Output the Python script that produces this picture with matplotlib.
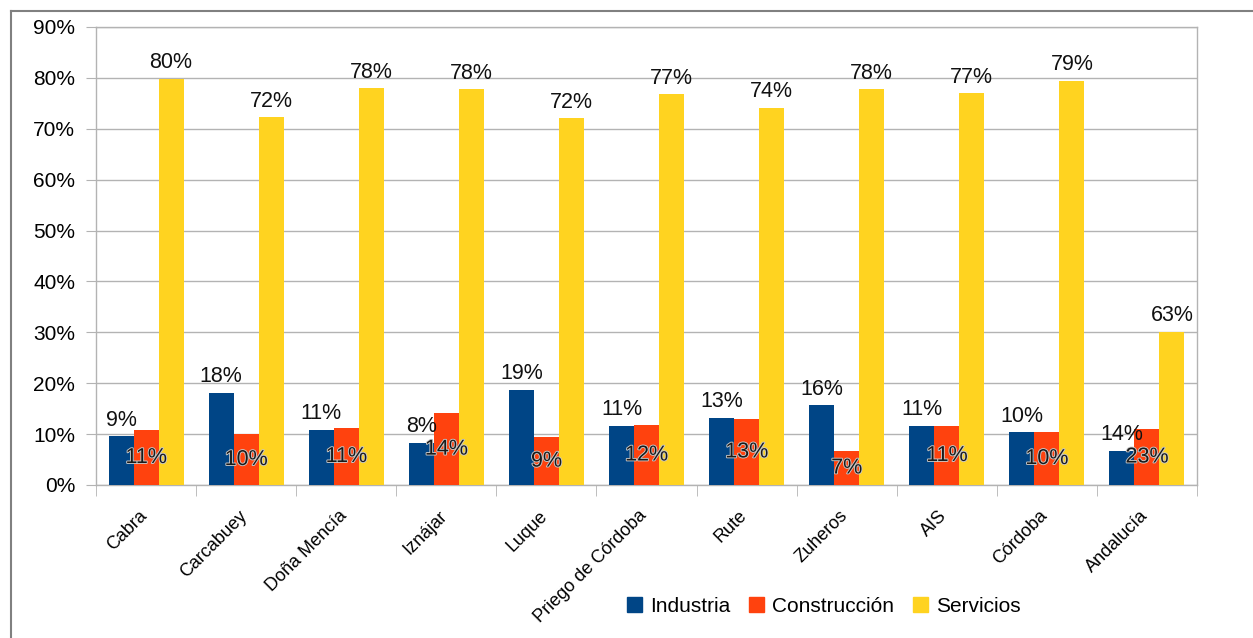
import numpy as np
import matplotlib.pyplot as plt
import matplotlib.patheffects as pe
import matplotlib.transforms as mtransforms
from matplotlib.lines import Line2D
from matplotlib.patches import Patch

plt.rcParams['font.family'] = ['Liberation Sans', 'DejaVu Sans']

categories = ["Cabra", "Carcabuey", "Doña Mencía", "Iznájar", "Luque",
              "Priego de Córdoba", "Rute", "Zuheros", "AIS", "Córdoba", "Andalucía"]
# bar heights (%) as drawn
industria = [9.6, 18.1, 10.8, 8.3, 18.7, 11.6, 13.2, 15.7, 11.6, 10.4, 6.7]
construccion = [10.8, 10.0, 11.2, 14.1, 9.4, 11.8, 13.0, 6.7, 11.6, 10.4, 11.0]
servicios = [79.8, 72.3, 78.0, 77.8, 72.1, 76.8, 74.1, 77.8, 77.0, 79.4, 30.1]
# data labels as printed
industria_lbl = [9, 18, 11, 8, 19, 11, 13, 16, 11, 10, 14]
construccion_lbl = [11, 10, 11, 14, 9, 12, 13, 7, 11, 10, 23]
servicios_lbl = [80, 72, 78, 78, 72, 77, 74, 78, 77, 79, 63]

c_ind, c_con, c_ser = '#004586', '#ff420e', '#ffd320'
grid_c = '#b3b3b3'

W, H = 1253, 638
fig = plt.figure(figsize=(W / 100, H / 100), dpi=100)
ax = fig.add_axes([96 / W, (H - 485) / H, 1101 / W, 458 / H])

x = np.arange(len(categories))
w = 0.25
ax.bar(x - w, industria, w, color=c_ind, zorder=3)
ax.bar(x, construccion, w, color=c_con, zorder=3)
ax.bar(x + w, servicios, w, color=c_ser, zorder=3)

fs = 15.5
for i in range(len(categories)):
    ax.annotate(f"{industria_lbl[i]}%", (x[i] - w, industria[i]), xytext=(0, 4),
                textcoords='offset points', ha='center', va='bottom', fontsize=fs, color='#111111')
    ax.annotate(f"{servicios_lbl[i]}%", (x[i] + w, servicios[i]), xytext=(0, 4),
                textcoords='offset points', ha='center', va='bottom', fontsize=fs, color='#111111')
    t = ax.text(x[i], construccion[i] / 2, f"{construccion_lbl[i]}%", ha='center', va='center',
                fontsize=fs, color='#1a1a1a', zorder=5)
    t.set_path_effects([pe.Stroke(linewidth=1.3, foreground='#c8c8c8'), pe.Normal()])

ax.set_xlim(-0.5, len(categories) - 0.5)
ax.set_ylim(0, 90)
ax.set_yticks(np.arange(0, 91, 10))
ax.set_yticklabels([f"{v}%" for v in range(0, 91, 10)], fontsize=15)
ax.yaxis.grid(True, color=grid_c, linewidth=1, zorder=0)
ax.tick_params(axis='y', length=7, color=grid_c, pad=8)

ax.set_xticks(x)
ax.set_xticklabels(categories, rotation=45, ha='right', rotation_mode='anchor', fontsize=13)
ax.set_xticks(np.arange(-0.5, len(categories)), minor=True)
ax.tick_params(axis='x', which='major', length=0, pad=16)
ax.tick_params(axis='x', which='minor', length=8, color=grid_c)
shift = mtransforms.ScaledTranslation(-8 / 100, 0, fig.dpi_scale_trans)
for lbl in ax.get_xticklabels():
    lbl.set_transform(lbl.get_transform() + shift)

for s in ax.spines.values():
    s.set_color(grid_c)
    s.set_linewidth(1)

handles = [Patch(color=c_ind), Patch(color=c_con), Patch(color=c_ser)]
fig.legend(handles, ["Industria", "Construcción", "Servicios"], loc='center',
           bbox_to_anchor=(824 / W, 1 - 606 / H), ncol=3, frameon=False, fontsize=15,
           handlelength=0.7, handleheight=0.7, handletextpad=0.4, columnspacing=0.9)

# outer frame (top and left edges visible)
fig.add_artist(Line2D([11 / W, 1], [1 - 11 / H, 1 - 11 / H], color='#808080', lw=1.5))
fig.add_artist(Line2D([11 / W, 11 / W], [0, 1 - 11 / H], color='#808080', lw=1.5))

fig.savefig('out.png', dpi=100)
